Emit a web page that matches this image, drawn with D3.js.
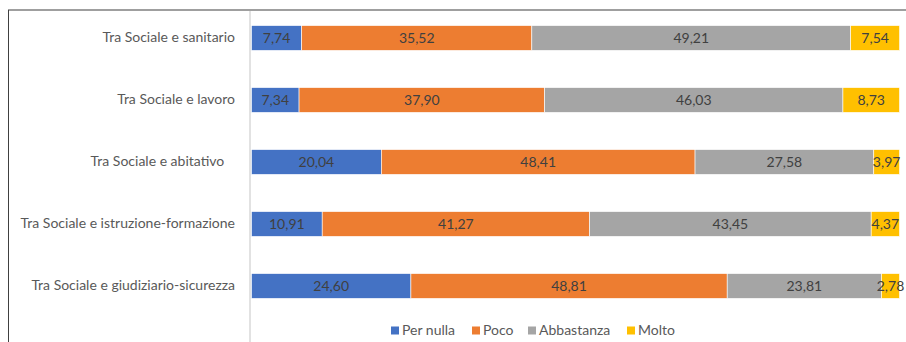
<!DOCTYPE html>
<html><head><meta charset="utf-8">
<script src="https://cdn.jsdelivr.net/npm/d3@7"></script>
<style>
html,body{margin:0;padding:0;background:#fff;}
svg{display:block;font-family:Lato,"Open Sans",sans-serif;}
</style></head>
<body><svg id="c" width="906" height="342"></svg>
<script>
const categories = [
  "Tra Sociale e sanitario",
  "Tra Sociale e lavoro",
  "Tra Sociale e abitativo\u00a0\u00a0\u00a0",
  "Tra Sociale e istruzione-formazione",
  "Tra Sociale e giudiziario-sicurezza"
];
const seriesNames = ["Per nulla", "Poco", "Abbastanza", "Molto"];
const perNulla   = [7.74, 7.34, 20.04, 10.91, 24.60];
const poco       = [35.52, 37.90, 48.41, 41.27, 48.81];
const abbastanza = [49.21, 46.03, 27.58, 43.45, 23.81];
const molto      = [7.54, 8.73, 3.97, 4.37, 2.78];
const colors = ["#4472C4", "#ED7D31", "#A5A5A5", "#FFC000"];

const seriesValues = [perNulla, poco, abbastanza, molto];
const rows = categories.map((c, i) => {
  const o = {cat: c};
  seriesNames.forEach((s, j) => o[s] = seriesValues[j][i]);
  return o;
});
const stacked = d3.stack().keys(seriesNames)(rows);

const svg = d3.select("#c");
const x = d3.scaleLinear().domain([0, 100]).range([251.5, 899.5]);
const y = d3.scaleBand().domain(categories).range([7, 317]).paddingInner(0.6).paddingOuter(0.3);

// frame
svg.append("line").attr("x1", 8).attr("x2", 906).attr("y1", 10).attr("y2", 10)
  .attr("stroke", "#7f7f7f").attr("stroke-width", 1.5);
svg.append("line").attr("x1", 8.5).attr("x2", 8.5).attr("y1", 10).attr("y2", 342)
  .attr("stroke", "#404040").attr("stroke-width", 1);
// category axis line
svg.append("line").attr("x1", 250).attr("x2", 250).attr("y1", 11).attr("y2", 342)
  .attr("stroke", "#d9d9d9").attr("stroke-width", 1.5);

const g = svg.append("g");
stacked.forEach((layer, j) => {
  const lg = g.append("g");
  lg.selectAll("rect").data(layer).enter().append("rect")
    .attr("x", d => x(d[0]))
    .attr("width", d => x(d[1]) - x(d[0]))
    .attr("y", d => y(d.data.cat))
    .attr("height", y.bandwidth())
    .attr("fill", colors[j])
    .attr("stroke", "#fff").attr("stroke-width", 0.6);
  lg.selectAll("text").data(layer).enter().append("text")
    .attr("x", d => (x(d[0]) + x(d[1])) / 2)
    .attr("y", d => y(d.data.cat) + y.bandwidth() / 2)
    .attr("dy", "0.35em")
    .attr("text-anchor", "middle")
    .attr("font-size", 14)
    .attr("fill", "#404040")
    .text(d => d3.format(".2f")(d[1] - d[0]).replace(".", ","));
});

// category labels
const yAxis = d3.axisLeft(y).tickSize(0).tickPadding(0);
const ax = svg.append("g").attr("transform", "translate(235,0)").call(yAxis);
ax.select(".domain").remove();
ax.selectAll("text").attr("font-size", 14).attr("fill", "#595959")
  .attr("font-family", "Lato, 'Open Sans', sans-serif")
  .style("white-space", "pre");

// legend
const legendX = [391, 472, 528, 627];
const lg = svg.append("g");
seriesNames.forEach((s, j) => {
  lg.append("rect").attr("x", legendX[j]).attr("y", 326.5).attr("width", 8).attr("height", 8).attr("fill", colors[j]);
  lg.append("text").attr("x", legendX[j] + 11).attr("y", 330.5).attr("dy", "0.35em")
    .attr("font-size", 14).attr("fill", "#595959").text(s);
});
</script></body></html>
